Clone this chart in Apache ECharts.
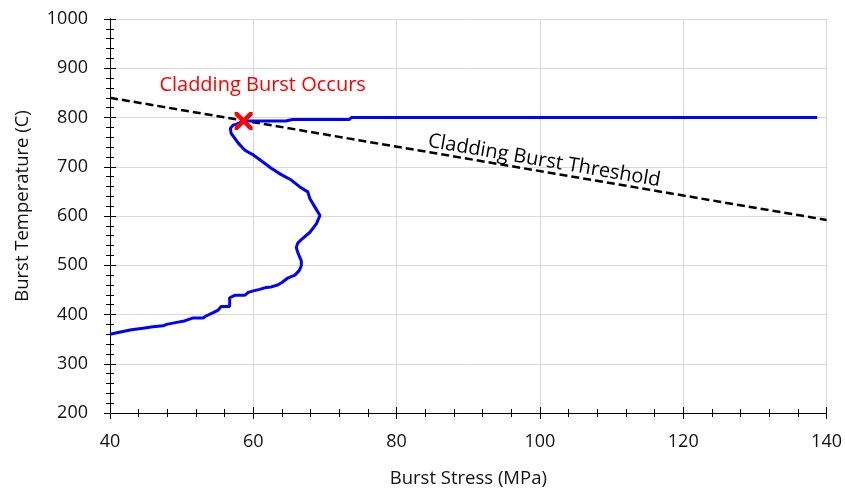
<!DOCTYPE html>
<html>
<head>
<meta charset="utf-8">
<script src="https://cdn.jsdelivr.net/npm/echarts@6/dist/echarts.min.js"></script>
<style>
  html, body { margin: 0; padding: 0; background: #fff; }
  #chart { width: 845px; height: 493px; }
</style>
</head>
<body>
<div id="chart"></div>
<script>
// Burst path: stress (MPa) vs. temperature (C), in drawing order
const burstStress = [40.0, 41.3, 43.0, 44.6, 46.0, 47.4, 47.9, 49.3, 50.4, 51.6, 53.0, 53.4, 54.4, 55.1,
  55.5, 56.7, 56.7, 57.4, 58.8, 59.3, 60.0, 60.9, 61.8, 62.5, 63.4, 64.0, 64.8, 65.8, 66.4, 66.7,
  66.7, 66.2, 66.0, 66.2, 66.7, 67.9, 68.8, 69.3, 68.6, 67.9, 67.6, 66.5, 65.3, 63.9, 62.5, 61.3,
  60.0, 59.0, 58.6, 57.9, 57.4, 56.9, 56.8, 57.2, 57.6, 58.65, 64.5, 65.5, 73.4, 73.7, 138.7];
const burstTemp = [360, 364, 369, 372, 375, 377, 380, 384, 387, 393, 393, 397, 404, 409,
  416, 416, 434, 439, 439, 445, 448, 451, 455, 456, 460, 465, 474, 480, 489, 499,
  509, 526, 536, 545, 552, 567, 584, 601, 618, 635, 649, 659, 673, 684, 697, 710,
  724, 732, 737, 748, 758, 768, 778, 785, 786, 793, 793, 796, 796, 800, 800];

// Cladding burst threshold line (end points)
const thresholdStress = [40, 140];
const thresholdTemp = [840, 592];

// Burst event
const burstPoint = [58.65, 793];

// Annotation anchors (data coordinates)
const occursLabel = { text: 'Cladding Burst Occurs', at: [61.3, 865] };
const thresholdLabel = { text: 'Cladding Burst Threshold', at: [100.6, 712] };

// Axis settings
const xTicks = { min: 40, max: 140, interval: 20 };
const yTicks = { min: 200, max: 1000, interval: 100 };

const FONT = '"Open Sans", Lato, sans-serif';

const chart = echarts.init(document.getElementById('chart'), null, { renderer: 'canvas' });

function axisPair(base, kind) {
  const common = {
    type: 'value',
    min: base.min, max: base.max, interval: base.interval,
    axisLine: { show: true, onZero: false, lineStyle: { color: '#000', width: 1 } },
    minorTick: { show: true, splitNumber: 5, length: 4, lineStyle: { color: '#000', width: 1 } },
    minorSplitLine: { show: false }
  };
  const main = Object.assign({}, common, {
    position: kind === 'x' ? 'bottom' : 'left',
    axisTick: { show: true, inside: false, length: 6, lineStyle: { color: '#000', width: 1 } },
    axisLabel: {
      show: true, color: '#111', fontSize: 18, fontFamily: FONT,
      margin: kind === 'x' ? 20 : 22,
      formatter: v => String(v)
    },
    splitLine: { show: true, lineStyle: { color: '#d9d9d9', width: 1 } },
    name: kind === 'x' ? 'Burst Stress (MPa)' : 'Burst Temperature (C)',
    nameLocation: 'middle',
    nameGap: kind === 'x' ? 56 : 78,
    nameTextStyle: kind === 'x'
      ? { color: '#111', fontSize: 18.5, fontFamily: FONT }
      : { color: '#111', fontSize: 18.5, fontFamily: FONT, padding: [0, 0, 0, 20] }
  });
  const inner = Object.assign({}, common, {
    position: kind === 'x' ? 'bottom' : 'left',
    axisTick: { show: true, inside: true, length: 6, lineStyle: { color: '#000', width: 1 } },
    axisLabel: { show: false },
    splitLine: { show: false }
  });
  return [main, inner];
}

const option = {
  backgroundColor: '#fff',
  animation: false,
  grid: { left: 110, right: 17, top: 19, bottom: 80, containLabel: false },
  xAxis: axisPair(xTicks, 'x'),
  yAxis: axisPair(yTicks, 'y'),
  series: [
    {
      name: 'Threshold',
      type: 'line',
      data: thresholdStress.map((x, i) => [x, thresholdTemp[i]]),
      symbol: 'none',
      lineStyle: { color: '#000', width: 2.5, type: [8, 4] },
      z: 3
    },
    {
      name: 'Burst path',
      type: 'line',
      data: burstStress.map((x, i) => [x, burstTemp[i]]),
      symbol: 'none',
      lineStyle: { color: '#0000ff', width: 3 },
      z: 4
    },
    {
      name: 'Burst',
      type: 'scatter',
      data: [burstPoint],
      symbol: 'path://M0,0 L3.5,0 L10,6.5 L16.5,0 L20,0 L20,3.5 L13.5,10 L20,16.5 L20,20 L16.5,20 L10,13.5 L3.5,20 L0,20 L0,16.5 L6.5,10 L0,3.5 Z',
      symbolSize: 18,
      itemStyle: { color: '#ff0000', opacity: 1 },
      z: 6
    },
    {
      name: 'Labels',
      type: 'scatter',
      symbolSize: 0,
      silent: true,
      itemStyle: { opacity: 1 },
      data: [
        { value: occursLabel.at, label: { formatter: occursLabel.text, color: '#ff0000' } },
        { value: thresholdLabel.at, label: { formatter: thresholdLabel.text, color: '#000', rotate: -9.7 } }
      ],
      label: { show: true, position: 'inside', fontSize: 20, fontFamily: FONT },
      z: 7
    }
  ]
};

chart.setOption(option);
</script>
</body>
</html>
